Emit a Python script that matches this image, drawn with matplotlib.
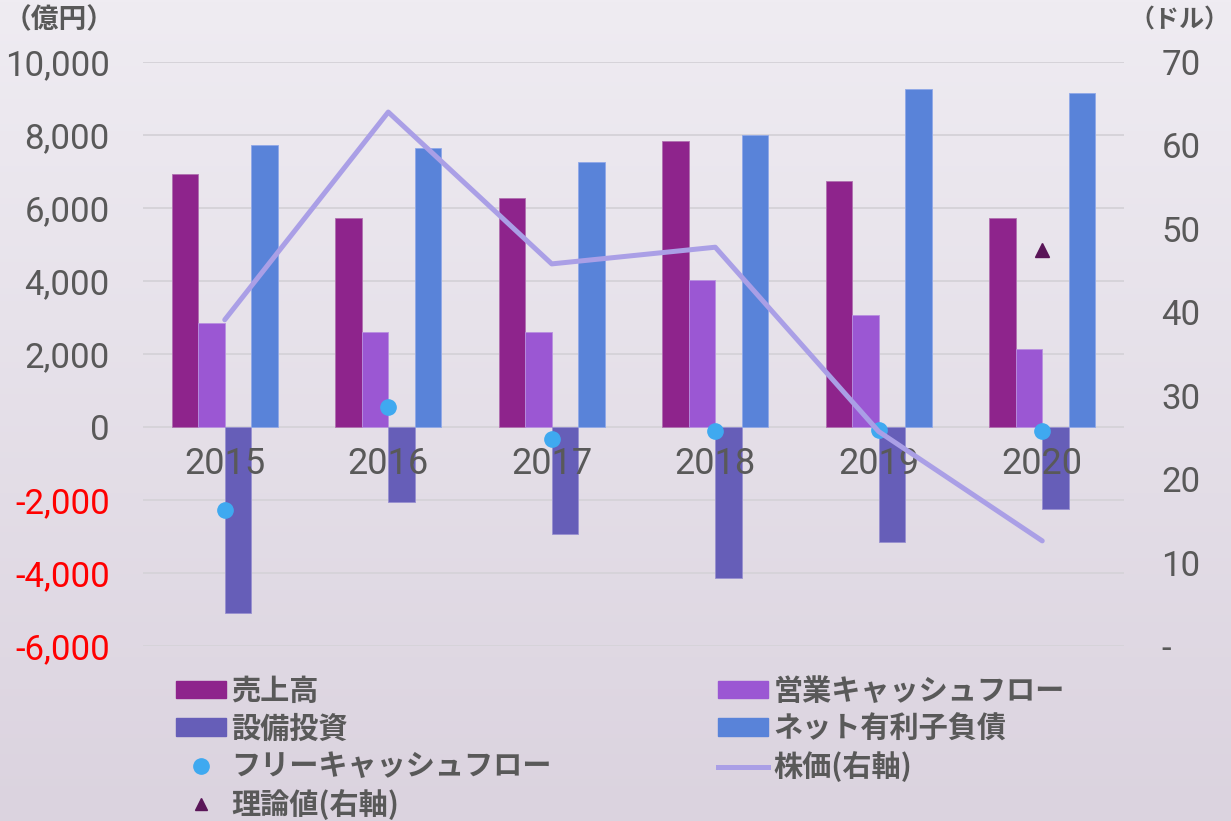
import numpy as np
import matplotlib.pyplot as plt
from matplotlib.colors import LinearSegmentedColormap
from matplotlib.lines import Line2D
from matplotlib.patches import Patch

plt.rcParams['font.family'] = ['Liberation Sans Narrow', 'Roboto', 'Noto Sans CJK JP', 'DejaVu Sans']

# データ（億円・ドル）
years = ['2015', '2016', '2017', '2018', '2019', '2020']
uriage = [6930, 5730, 6280, 7840, 6740, 5730]
eigyo_cf = [2850, 2600, 2600, 4030, 3070, 2140]
setsubi = [-5100, -2060, -2930, -4140, -3150, -2250]
net_debt = [7730, 7650, 7260, 8000, 9260, 9150]
fcf = [-2270, 550, -330, -110, -80, -110]
kabuka = [39.1, 64.0, 45.8, 47.8, 25.7, 12.6]
riron = [np.nan, np.nan, np.nan, np.nan, np.nan, 47.5]

left_ticks = list(range(-6000, 10001, 2000))
right_ticks = list(range(0, 71, 10))

c_uriage = '#8e248c'
c_eigyo = '#9b57d3'
c_setsubi = '#665eb8'
c_debt = '#5983d9'
c_fcf = '#3fa9f0'
c_kabuka = '#aa9fe6'
c_riron = '#5a1558'
c_text = '#595959'

fig = plt.figure(figsize=(12.31, 8.21), dpi=100)

# 背景グラデーション
bg = fig.add_axes([0, 0, 1, 1], zorder=-10)
grad = np.linspace(0, 1, 256).reshape(-1, 1)
cmap = LinearSegmentedColormap.from_list('bg', ['#efecf2', '#dbd3df'])
bg.imshow(grad, aspect='auto', cmap=cmap, extent=[0, 1, 0, 1], origin='upper')
bg.axis('off')

ax = fig.add_axes([143 / 1231, 1 - 646 / 821, (1124 - 143) / 1231, (646 - 62) / 821])
ax.set_facecolor('none')

x = np.arange(len(years))
w = 0.162
ax.bar(x - 1.5 * w, uriage, w, color=c_uriage, edgecolor='#b070b0', linewidth=0.6, zorder=1)
ax.bar(x - 0.5 * w, eigyo_cf, w, color=c_eigyo, edgecolor='#b890e0', linewidth=0.6, zorder=1)
ax.bar(x + 0.5 * w, setsubi, w, color=c_setsubi, edgecolor='#9890d0', linewidth=0.6, zorder=1)
ax.bar(x + 1.5 * w, net_debt, w, color=c_debt, edgecolor='#90a8e8', linewidth=0.6, zorder=1)
ax.plot(x, fcf, 'o', color=c_fcf, markersize=11, zorder=3)

ax.set_xlim(-0.5, 5.5)
ax.set_ylim(-6000, 10000)
ax.set_yticks(left_ticks)
ax.set_yticklabels([f'{v:,}' for v in left_ticks])
for lab, v in zip(ax.get_yticklabels(), left_ticks):
    lab.set_color('#ff0000' if v < 0 else c_text)
ax.tick_params(axis='y', length=0, pad=24, labelsize=25)
ax.grid(axis='y', color='#d6d3d9', linewidth=1.4, zorder=0)
ax.set_axisbelow(True)

# 年ラベルはゼロ線の下（棒の上に描く）
ax.set_xticks([])
for xi, yr in zip(x, years):
    ax.annotate(yr, (xi, 0), xytext=(0, -14), textcoords='offset points',
                ha='center', va='top', fontsize=26, color=c_text, zorder=5)
for s in ax.spines.values():
    s.set_visible(False)

ax2 = ax.twinx()
ax2.set_position(ax.get_position())
ax2.plot(x, kabuka, color=c_kabuka, linewidth=3.6, solid_capstyle='round', zorder=2)
ax2.plot(x, riron, '^', color=c_riron, markersize=10, zorder=3)
ax2.set_ylim(0, 70)
ax2.set_yticks(right_ticks)
ax2.set_yticklabels(['-' if v == 0 else str(v) for v in right_ticks])
ax2.tick_params(axis='y', length=0, pad=27, labelsize=25, labelcolor=c_text)
for s in ax2.spines.values():
    s.set_visible(False)

jp = ['Noto Sans CJK JP', 'DejaVu Sans']
fig.text(4 / 1231, 1 - 20 / 821, '（億円）', family=jp, fontsize=20, weight='bold',
         color=c_text, ha='left', va='center')
fig.text(1229 / 1231, 1 - 20 / 821, '（ドル）', family=jp, fontsize=18, weight='bold',
         color=c_text, ha='right', va='center')

# 凡例
h_uriage = Patch(color=c_uriage, label='売上高')
h_setsubi = Patch(color=c_setsubi, label='設備投資')
h_fcf = Line2D([], [], marker='o', linestyle='none', color=c_fcf, markersize=11, label='フリーキャッシュフロー')
h_riron = Line2D([], [], marker='^', linestyle='none', color=c_riron, markersize=9, label='理論値(右軸)')
h_eigyo = Patch(color=c_eigyo, label='営業キャッシュフロー')
h_debt = Patch(color=c_debt, label='ネット有利子負債')
h_kabuka = Line2D([], [], color=c_kabuka, linewidth=3.6, label='株価(右軸)')

leg_kw = dict(frameon=False, loc='upper left', handlelength=1.7, handleheight=0.55,
              handletextpad=0.2, labelspacing=0.26, borderpad=0, borderaxespad=0,
              prop={'family': jp, 'size': 21, 'weight': 'bold'}, labelcolor=c_text)
fig.legend(handles=[h_uriage, h_setsubi, h_fcf, h_riron],
           bbox_to_anchor=(176 / 1231, 1 - 676 / 821), **leg_kw)
fig.legend(handles=[h_eigyo, h_debt, h_kabuka],
           bbox_to_anchor=(718 / 1231, 1 - 676 / 821), **leg_kw)

fig.savefig('out.png', dpi=100)
